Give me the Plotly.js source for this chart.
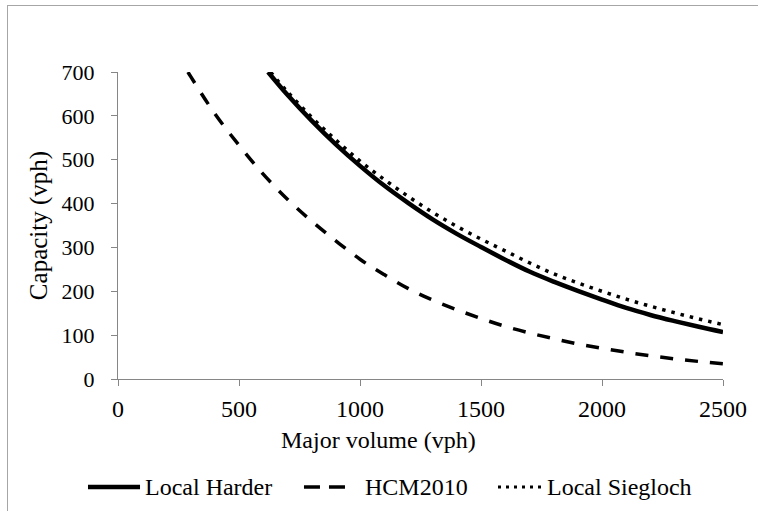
<!DOCTYPE html>
<html>
<head>
<meta charset="utf-8">
<script src="https://cdn.plot.ly/plotly-3.0.1.min.js"></script>
<style>
  html, body { margin: 0; padding: 0; background: #fff; }
  #wrap { position: relative; width: 758px; height: 511px; overflow: hidden; }
  #chart { width: 758px; height: 511px; }
  #frame { position: absolute; left: 7px; top: 5px; width: 780px; height: 540px;
           border: 1px solid #a6a6a6; pointer-events: none; box-sizing: border-box; }
</style>
</head>
<body>
<div id="wrap">
  <div id="chart"></div>
  <div id="frame"></div>
</div>
<script>
// Major volume (vph) and capacity (vph)
const harderX = [620, 700, 800, 900, 1000, 1100, 1200, 1300, 1400, 1500, 1600, 1700, 1800, 1900, 2000, 2100, 2200, 2300, 2400, 2500];
const harderY = [700, 648, 589, 535, 486, 441, 401, 364, 331, 301, 272, 245, 222, 201, 181, 162, 146, 132, 119, 107];

const hcmX = [289, 300, 400, 500, 600, 700, 800, 900, 1000, 1100, 1200, 1300, 1400, 1500, 1600, 1700, 1800, 1900, 2000, 2100, 2200, 2300, 2400, 2500];
const hcmY = [700, 690, 605, 533, 467, 410, 360, 315, 273, 238, 206, 180, 158, 138, 120, 105, 92, 80, 70, 61, 53, 46, 40, 35];

const siegX = [630, 700, 800, 900, 1000, 1100, 1200, 1300, 1400, 1500, 1600, 1700, 1800, 1900, 2000, 2100, 2200, 2300, 2400, 2500];
const siegY = [700, 655, 597, 545, 497, 455, 416, 380, 348, 319, 292, 265, 240, 219, 200, 182, 166, 151, 137, 124];

const seriesNames = ["Local Harder", "HCM2010", "Local Siegloch"];
const xTicks = [0, 500, 1000, 1500, 2000, 2500];
const yTicks = [0, 100, 200, 300, 400, 500, 600, 700];
const xTitle = "Major volume (vph)";
const yTitle = "Capacity (vph)";

const serif = "'Liberation Serif', 'Times New Roman', Times, serif";

const lineStyles = [
  { color: "#000", width: 4.5 },
  { color: "#000", width: 3.5, dash: "13px,12px" },
  { color: "#000", width: 3.5, dash: "3.5px,6px" }
];

const traces = [
  { x: harderX, y: harderY, name: seriesNames[0], type: "scatter", mode: "lines",
    line: Object.assign({ shape: "spline" }, lineStyles[0]) },
  { x: hcmX, y: hcmY, name: seriesNames[1], type: "scatter", mode: "lines",
    line: Object.assign({ shape: "spline" }, lineStyles[1]) },
  { x: siegX, y: siegY, name: seriesNames[2], type: "scatter", mode: "lines",
    line: Object.assign({ shape: "spline" }, lineStyles[2]) }
];

// Legend (drawn as a row below the plot, like the original)
const legY = -0.352;
const legSamples = [
  { x0: -0.0496, x1: 0.0364, line: { color: "#000", width: 4.5 } },
  { x0: 0.3074, x1: 0.3752, line: { color: "#000", width: 3.5, dash: "16px,9px" } },
  { x0: 0.6281, x1: 0.7025, line: { color: "#000", width: 3, dash: "3px,5px" } }
];
const legTextX = [0.0413, 0.405, 0.7058];

const shapes = legSamples.map(s => ({
  type: "line", xref: "paper", yref: "paper", x0: s.x0, x1: s.x1, y0: legY, y1: legY, line: s.line
}));

const annotations = seriesNames.map((n, i) => ({
  text: n, xref: "paper", yref: "paper", x: legTextX[i], y: legY, xanchor: "left", yanchor: "middle",
  showarrow: false, font: { family: serif, size: 24, color: "#000" }
}));
annotations.push({
  text: xTitle, xref: "paper", yref: "paper", x: 0.431, y: -0.2, xanchor: "center", yanchor: "middle",
  showarrow: false, font: { family: serif, size: 24, color: "#000" }
});

const layout = {
  width: 758, height: 511,
  margin: { l: 118, r: 35, t: 72, b: 132 },
  paper_bgcolor: "#fff", plot_bgcolor: "#fff",
  font: { family: serif, color: "#000", size: 22 },
  showlegend: false,
  shapes: shapes,
  annotations: annotations,
  xaxis: {
    range: [0, 2500], tickvals: xTicks, ticktext: xTicks.map(String),
    showgrid: false, zeroline: false, showline: true, linecolor: "#868686", linewidth: 1,
    ticks: "outside", ticklen: 6, tickcolor: "#868686", ticklabelstandoff: 2,
    tickfont: { family: serif, size: 24, color: "#000" }
  },
  yaxis: {
    range: [0, 700], tickvals: yTicks, ticktext: yTicks.map(String),
    showgrid: false, zeroline: false, showline: true, linecolor: "#868686", linewidth: 1,
    ticks: "outside", ticklen: 6, tickcolor: "#868686", ticklabelstandoff: 12,
    tickfont: { family: serif, size: 22, color: "#000" },
    title: { text: yTitle, font: { family: serif, size: 25, color: "#000" }, standoff: 6 }
  }
};

Plotly.newPlot("chart", traces, layout, { displayModeBar: false, staticPlot: true });
</script>
</body>
</html>
